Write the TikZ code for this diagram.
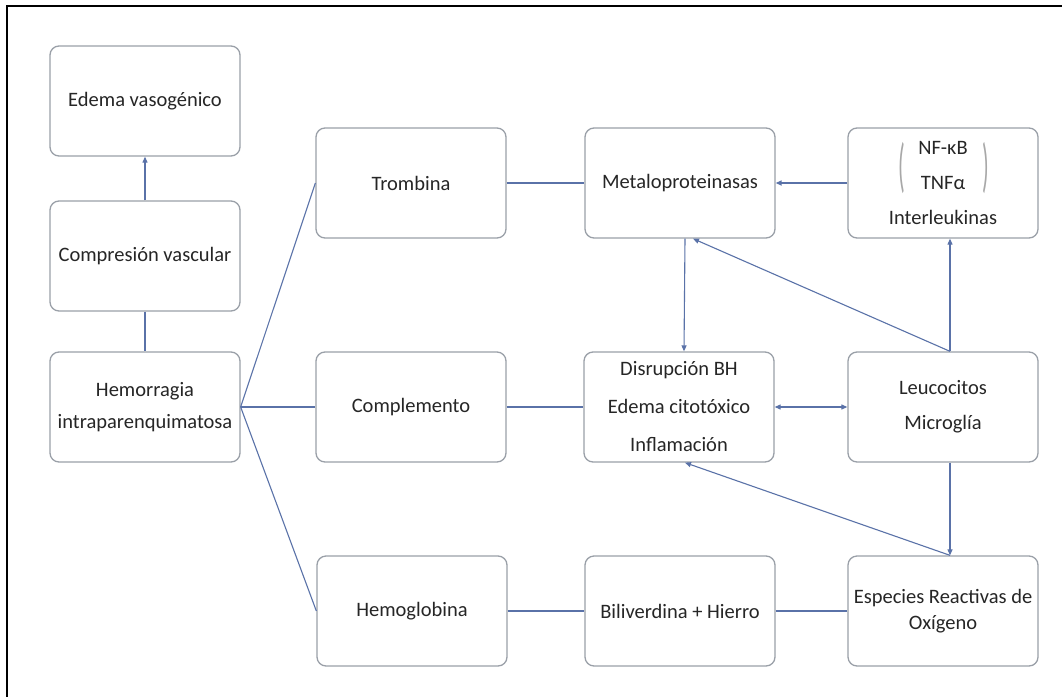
\documentclass[tikz,border=0pt]{standalone}
\usepackage{fontspec}
\setmainfont{Carlito}
\usetikzlibrary{arrows.meta,calc}
\definecolor{ln}{HTML}{5A72A8}
\definecolor{bx}{HTML}{9AA0A8}
\definecolor{tx}{HTML}{262626}
\definecolor{pr}{HTML}{A8A8A8}
\begin{document}
\begin{tikzpicture}[x=1pt,y=-1pt,
  box/.style={draw=bx, line width=1.3pt, rounded corners=9pt, minimum width=190pt,
    minimum height=110pt, inner sep=0pt, text=tx, align=center, fill=white,
    font=\fontsize{20.5}{35}\selectfont},
  wide/.style={font=\fontsize{20.5}{38}\selectfont},
  narrow/.style={font=\fontsize{20.5}{32}\selectfont},
  tight/.style={font=\fontsize{20.5}{26}\selectfont},
  conn/.style={draw=ln, line width=1.1pt},
  arr/.style={conn, -{Triangle[length=6pt,width=5pt]}},
  darr/.style={conn, {Triangle[length=6pt,width=5pt]}-{Triangle[length=6pt,width=5pt]}},
  paren/.style={text=pr, inner sep=0pt, font=\fontsize{20}{20}\selectfont}
]
\useasboundingbox (0,0) rectangle (1062,696);
\fill[white] (0,0) rectangle (1062,696);
\draw[line width=2.2pt, black] (7,705) -- (7,6) -- (1070,6);

% column 1
\node[box] (ev) at (145,101) {Edema vasogénico};
\node[box] (cv) at (145,256) {Compresión vascular};
\node[box, narrow] (hi) at (145,407) {Hemorragia\\intraparenquimatosa};
% column 2
\node[box] (tr) at (411,183) {Trombina};
\node[box] (co) at (411,407) {Complemento};
\node[box] (hg) at (412,611) {Hemoglobina};
% column 3
\node[box] (me) at (680,183) {Metaloproteinasas};
\node[box, wide] (di) at (679,407) {Disrupción BH\\Edema citotóxico\\Inflamación};
\node[box] (bh) at (680,611) {Biliverdina + Hierro};
% column 4
\node[box] (nf) at (943,183) {NF-κB\\TNFα\\Interleukinas};
\node[paren] (lp) at (902,168) {\scalebox{1.1}[2.95]{(}};
\node[paren] (rp) at (986,168) {\scalebox{1.1}[2.95]{)}};
\node[box] (le) at (943,407) {Leucocitos\\Microglía};
\node[box, tight] (es) at (943,611) {Especies Reactivas de\\Oxígeno};

% connectors
\draw[arr] (cv.north) -- (ev.south);
\draw[conn] (cv.south) -- (hi.north);
\draw[conn] (hi.east) -- (tr.west);
\draw[conn] (hi.east) -- (co.west);
\draw[conn] (hi.east) -- (hg.west);
\draw[conn] (tr.east) -- (me.west);
\draw[conn] (co.east) -- (di.west);
\draw[conn] (hg.east) -- (bh.west);
\draw[conn] (bh.east) -- (es.west);
\draw[arr, line width=1.6pt] (nf.west) -- (me.east);
\draw[arr] ([xshift=5pt]me.south) -- ([xshift=5pt]di.north);
\draw[arr] ([xshift=7pt]le.north) -- ([xshift=7pt]nf.south);
\draw[arr] ([xshift=7pt]le.north) -- ([xshift=13pt]me.south);
\draw[darr] (di.east) -- (le.west);
\draw[arr] ([xshift=7pt]le.south) -- ([xshift=7pt]es.north);
\draw[arr] ([xshift=7pt]es.north) -- ([xshift=6pt]di.south);
\end{tikzpicture}
\end{document}
